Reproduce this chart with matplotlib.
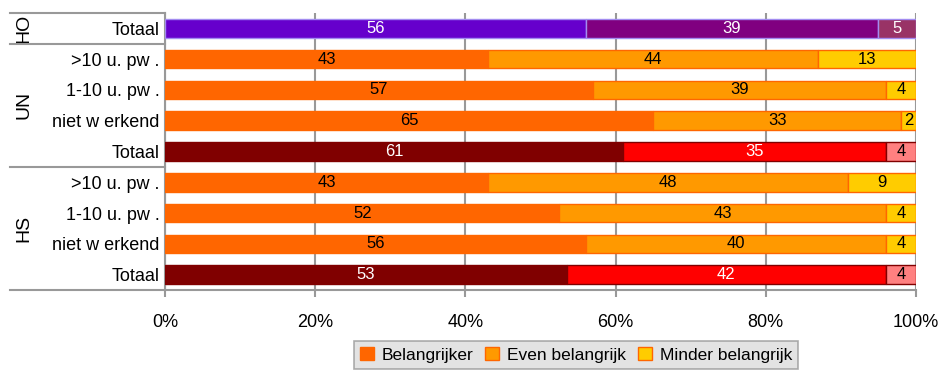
import numpy as np
import matplotlib.pyplot as plt
from matplotlib.patches import Patch
from matplotlib.transforms import blended_transform_factory

plt.rcParams['font.family'] = ['Liberation Sans', 'DejaVu Sans']

# Rijen van boven naar beneden
row_labels = ['Totaal', '>10 u. pw .', '1-10 u. pw .', 'niet w erkend', 'Totaal',
              '>10 u. pw .', '1-10 u. pw .', 'niet w erkend', 'Totaal']
belangrijker = [56, 43, 57, 65, 61, 43, 52, 56, 53]
even = [39, 44, 39, 33, 35, 48, 43, 40, 42]
minder = [5, 13, 4, 2, 4, 9, 4, 4, 4]
# rijtype: 'ho', 'sub', 'tot'
row_kind = ['ho', 'sub', 'sub', 'sub', 'tot', 'sub', 'sub', 'sub', 'tot']
groups = ['HO', 'UN', 'HS']
group_rows = [(0, 0), (1, 4), (5, 8)]
series_names = ['Belangrijker', 'Even belangrijk', 'Minder belangrijk']

styles = {
    'sub': {'fill': ['#ff6600', '#ff9900', '#ffcc00'], 'edge': '#ff6600',
            'text': ['black', 'black', 'black']},
    'ho': {'fill': ['#6600cc', '#800080', '#993366'], 'edge': '#a38cf0',
           'text': ['white', 'white', 'white']},
    'tot': {'fill': ['#800000', '#ff0000', '#ff8080'], 'edge': '#800000',
            'text': ['white', 'white', 'black']},
}

fig = plt.figure(figsize=(9.41, 3.71), dpi=100)
ax = fig.add_axes([165 / 941, 1 - 290 / 371, 751 / 941, 277 / 371])

vals = np.array([belangrijker, even, minder], dtype=float)
pct = vals / vals.sum(axis=0) * 100
y = np.arange(len(row_labels))

left = np.zeros(len(row_labels))
for s in range(3):
    for i in range(len(row_labels)):
        st = styles[row_kind[i]]
        ax.barh(y[i], pct[s, i], left=left[i], height=0.6,
                color=st['fill'][s], edgecolor=st['edge'], linewidth=1.0, zorder=3)
        ax.text(left[i] + pct[s, i] / 2, y[i], str(int(vals[s, i])),
                ha='center', va='center', fontsize=12, color=st['text'][s], zorder=4)
    left += pct[s]

ax.set_xlim(0, 100)
ax.set_ylim(len(row_labels) - 0.5, -0.5)
ax.set_yticks(y)
ax.set_yticklabels(row_labels, fontsize=13)
ax.set_xticks(np.arange(0, 101, 20))
ax.set_xticklabels([f'{v}%' for v in range(0, 101, 20)], fontsize=13)
ax.tick_params(axis='y', length=0, pad=4)
ax.tick_params(axis='x', length=5, width=1.5, color='#999999', pad=12)
ax.grid(axis='x', color='#999999', linewidth=1.5, zorder=0)
for sp in ['top', 'right']:
    ax.spines[sp].set_visible(False)
ax.spines['left'].set_color('#999999')
ax.spines['left'].set_linewidth(1.5)
ax.spines['bottom'].set_visible(False)

# groepslijnen en labels links
tr = blended_transform_factory(ax.transAxes, ax.transData)
x0 = (10 - 165) / 751
for yy in [-0.5, 0.5, 4.5, 8.5]:
    ax.plot([x0, 1 if yy == 8.5 else 0], [yy, yy], transform=tr, color='#999999',
            linewidth=1.5, clip_on=False, zorder=5)
for g, (a, b) in zip(groups, group_rows):
    ax.text((24 - 165) / 751, (a + b) / 2, g, transform=tr, rotation=90,
            ha='center', va='center', fontsize=14)

handles = [Patch(facecolor=c, edgecolor='#ff6600') for c in styles['sub']['fill']]
leg = fig.legend(handles, series_names, loc='center', bbox_to_anchor=(576 / 941, 1 - 355 / 371),
                 ncol=3, fontsize=12.5, frameon=True, fancybox=False,
                 handlelength=0.8, handleheight=0.8, handletextpad=0.45, columnspacing=0.7,
                 borderpad=0.33, borderaxespad=0)
leg.get_frame().set_facecolor('#dddddd')
leg.get_frame().set_edgecolor('#999999')
leg.get_frame().set_linewidth(1.2)

fig.savefig('out.png', dpi=100)
